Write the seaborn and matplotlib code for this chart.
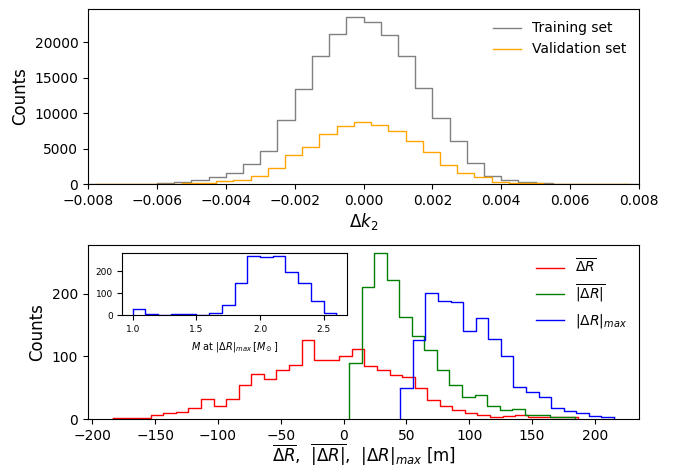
import numpy as np
import pandas as pd
import matplotlib
matplotlib.use("Agg")
import matplotlib.pyplot as plt
from matplotlib.ticker import MultipleLocator
import seaborn as sns


# =========================
# top panel: Delta k2 error
train_edges = np.linspace(-0.008, 0.008, 33)
train_counts = [2, 3, 5, 15, 120, 280, 540, 945, 1605, 2785, 4720, 9015,
                13360, 18030, 21150, 23550, 22840, 21000, 18030, 13590, 9300, 6090,
                2930, 1180, 570, 280, 140, 60, 20, 8, 3, 2]

val_edges = np.linspace(-0.00778, 0.00772, 32)
val_counts = [4, 8, 15, 30, 50, 95, 190, 380, 615, 1180, 2220, 4060,
              5240, 7030, 8165, 8830, 8350, 7500, 6140, 4580, 2690, 1605,
              990, 330, 190, 95, 50, 30, 15, 8, 4]

# ==================================
# bottom panel: radius errors in m
mean_edges = np.linspace(-183.4, 186.6, 38)
mean_counts = [1, 1, 2, 6, 9, 11, 17, 32, 21, 32, 55, 72, 64, 78, 87, 126,
               95, 95, 100, 112, 85, 78, 71, 67, 50, 30, 21, 15, 10, 7, 3, 5,
               6, 4, 4, 3, 3]

abs_edges = np.linspace(4.3, 184.3, 19)
abs_counts = [89, 211, 265, 223, 163, 133, 110, 78, 55, 35, 39, 21, 14, 16,
              6, 6, 4, 4]

max_edges = np.linspace(45.2, 215.2, 18)
max_counts = [50, 127, 202, 188, 187, 141, 162, 128, 100, 52, 44, 35, 18,
              13, 9, 5, 3]

# inset: mass at the maximum error
mass_edges = np.linspace(1.0, 2.6, 17)
mass_counts = [28, 5, 3, 7, 6, 3, 9, 45, 144, 268, 261, 269, 195, 145, 66, 13]


def step_hist(ax, edges, counts, color, label=None):
    d = pd.DataFrame({"x": (edges[:-1] + edges[1:]) / 2, "w": counts})
    sns.histplot(data=d, x="x", weights="w", bins=list(edges), element="step",
                 fill=False, color=color, linewidth=1, label=label, ax=ax)
    # close the outline down to zero at both ends (like histtype='step')
    ax.vlines([edges[0], edges[-1]], 0, [counts[0], counts[-1]],
              color=color, linewidth=1)


fig = plt.figure(figsize=(6.73, 4.68), dpi=100)
ax_top = fig.add_axes([0.1308, 0.6068, 0.8187, 0.374])
ax_bot = fig.add_axes([0.1308, 0.1046, 0.8187, 0.372])
ax_in = fig.add_axes([0.182, 0.326, 0.333, 0.134])

# --- top ---
step_hist(ax_top, train_edges, train_counts, "gray", "Training set")
step_hist(ax_top, val_edges, val_counts, "orange", "Validation set")
ax_top.set_xlim(-0.008, 0.008)
ax_top.set_ylim(bottom=0)
ax_top.set_xlabel(r"$\Delta k_2$", fontsize=12, labelpad=2)
ax_top.set_ylabel("Counts", fontsize=12)
ax_top.tick_params(labelsize=10)
ax_top.legend(frameon=False, fontsize=10, loc="upper right")

# --- bottom ---
step_hist(ax_bot, mean_edges, mean_counts, "red", r"$\overline{\Delta R}$")
step_hist(ax_bot, abs_edges, abs_counts, "green", r"$\overline{|\Delta R|}$")
step_hist(ax_bot, max_edges, max_counts, "blue", r"$|\Delta R|_{max}$")
ax_bot.set_ylim(bottom=0)
ax_bot.yaxis.set_major_locator(MultipleLocator(100))
ax_bot.set_xlabel(r"$\overline{\Delta R}$,  $\overline{|\Delta R|}$,  $|\Delta R|_{max}$ [m]",
                  fontsize=12, labelpad=-1)
ax_bot.set_ylabel("Counts", fontsize=12)
ax_bot.tick_params(labelsize=10)
ax_bot.legend(frameon=False, fontsize=10, loc="upper right")

# --- inset ---
step_hist(ax_in, mass_edges, mass_counts, "blue")
ax_in.set_ylim(bottom=0)
ax_in.xaxis.set_major_locator(MultipleLocator(0.5))
ax_in.set_xlabel(r"$M$ at $|\Delta R|_{max}\,[M_\odot]$", fontsize=7)
ax_in.set_ylabel("")
ax_in.tick_params(labelsize=6.5)

fig.savefig("out.png", dpi=100)
